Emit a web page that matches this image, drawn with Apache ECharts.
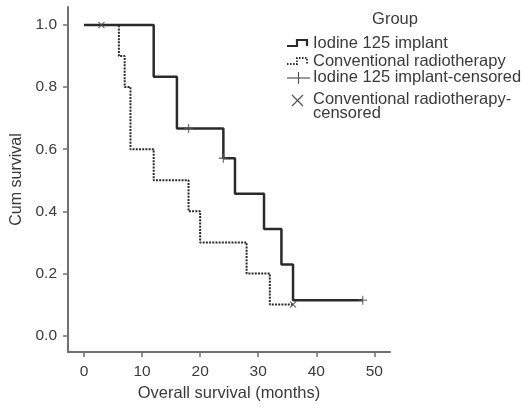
<!DOCTYPE html>
<html>
<head>
<meta charset="utf-8">
<script src="https://cdn.jsdelivr.net/npm/echarts@6/dist/echarts.min.js"></script>
<style>
html,body{margin:0;padding:0;background:#fff;}
#c{width:525px;height:407px;}
</style>
</head>
<body>
<div id="c"></div>
<script>
var xTicks = [0, 10, 20, 30, 40, 50];
var yTicks = [0.0, 0.2, 0.4, 0.6, 0.8, 1.0];
var iodineCurve = [[0,1.0],[12,0.833],[16,0.667],[24,0.571],[26,0.457],[31,0.343],[34,0.229],[36,0.114],[48,0.114]];
var conventionalCurve = [[0,1.0],[6,0.9],[7,0.8],[8,0.6],[12,0.5],[18,0.4],[20,0.3],[28,0.2],[32,0.1],[36,0.1]];
var iodineCensored = [[18,0.667],[24,0.571],[48,0.114]];
var conventionalCensored = [[3,1.0],[36,0.1]];
var legendTitle = 'Group';
var legendLabels = ['Iodine 125 implant','Conventional radiotherapy','Iodine 125 implant-censored','Conventional radiotherapy-\ncensored'];

var FONT = '"Liberation Sans", Arial, sans-serif';
var TXT = '#3a3a3a';
var AX = '#707070';
var LINE = '#2a2a2a';

var chart = echarts.init(document.getElementById('c'), null, {renderer:'canvas'});
var plusPath = 'path://M0,5L10,5M5,0L5,10';
var crossPath = 'path://M0,0L10,10M10,0L0,10';

chart.setOption({
  animation:false,
  backgroundColor:'#fff',
  grid:{left:68, right:135, top:7, bottom:53, containLabel:false},
  xAxis:{
    type:'value', min:-2.76, max:52.7,
    name:'Overall survival (months)', nameLocation:'middle', nameGap:33,
    nameTextStyle:{fontFamily:FONT, fontSize:16.5, color:TXT},
    axisLine:{show:true, onZero:false, lineStyle:{color:AX, width:2}},
    axisTick:{show:true, length:5, inside:false, customValues:xTicks, lineStyle:{color:AX, width:1.5}},
    axisLabel:{customValues:xTicks, margin:12, fontFamily:FONT, fontSize:15.5, color:TXT},
    splitLine:{show:false}
  },
  yAxis:{
    type:'value', min:-0.053, max:1.058,
    name:'Cum survival', nameLocation:'middle', nameGap:43,
    nameTextStyle:{fontFamily:FONT, fontSize:16, color:TXT},
    axisLine:{show:true, onZero:false, lineStyle:{color:AX, width:2}},
    axisTick:{show:true, length:5, inside:false, customValues:yTicks, lineStyle:{color:AX, width:1.5}},
    axisLabel:{customValues:yTicks, margin:11, fontFamily:FONT, fontSize:15.5, color:TXT,
      formatter:function(v){return v.toFixed(1);}},
    splitLine:{show:false}
  },
  series:[
    {type:'line', step:'end', data:conventionalCurve, showSymbol:false, symbol:'none',
     lineStyle:{color:LINE, width:2, type:[2,1.2]}, z:2},
    {type:'line', step:'end', data:iodineCurve, showSymbol:false, symbol:'none',
     lineStyle:{color:LINE, width:2.5, type:'solid'}, z:3},
    {type:'scatter', data:iodineCensored, symbol:plusPath, symbolSize:9,
     itemStyle:{color:'none', borderColor:'#555', borderWidth:1.3}, z:4},
    {type:'scatter', data:conventionalCensored, symbol:crossPath, symbolSize:6,
     itemStyle:{color:'none', borderColor:'#555', borderWidth:1.3}, z:4}
  ],
  graphic:[
    {type:'text', style:{x:395, y:19, text:legendTitle, font:'16.5px '+FONT, fill:TXT, textAlign:'center', textVerticalAlign:'middle'}},
    {type:'polyline', shape:{points:[[287,46],[297,46],[297,40],[307,40],[307,46]]}, style:{stroke:LINE, lineWidth:2.2, fill:'none'}},
    {type:'polyline', shape:{points:[[287,64],[297,64],[297,58],[307,58],[307,64]]}, style:{stroke:LINE, lineWidth:1.8, fill:'none', lineDash:[1.5,1.5]}},
    {type:'line', shape:{x1:287,y1:78,x2:310,y2:78}, style:{stroke:'#555', lineWidth:1.2}},
    {type:'line', shape:{x1:298.5,y1:72,x2:298.5,y2:84}, style:{stroke:'#555', lineWidth:1.2}},
    {type:'line', shape:{x1:292,y1:95,x2:303,y2:106}, style:{stroke:'#555', lineWidth:1.2}},
    {type:'line', shape:{x1:303,y1:95,x2:292,y2:106}, style:{stroke:'#555', lineWidth:1.2}},
    {type:'text', style:{x:313, y:43, text:legendLabels[0], font:'16.5px '+FONT, fill:TXT, textVerticalAlign:'middle'}},
    {type:'text', style:{x:313, y:61, text:legendLabels[1], font:'16.5px '+FONT, fill:TXT, textVerticalAlign:'middle'}},
    {type:'text', style:{x:313, y:77, text:legendLabels[2], font:'16.5px '+FONT, fill:TXT, textVerticalAlign:'middle'}},
    {type:'text', style:{x:313, y:92, text:legendLabels[3], font:'16.5px '+FONT, fill:TXT, textVerticalAlign:'top', lineHeight:14}}
  ]
});
</script>
</body>
</html>
